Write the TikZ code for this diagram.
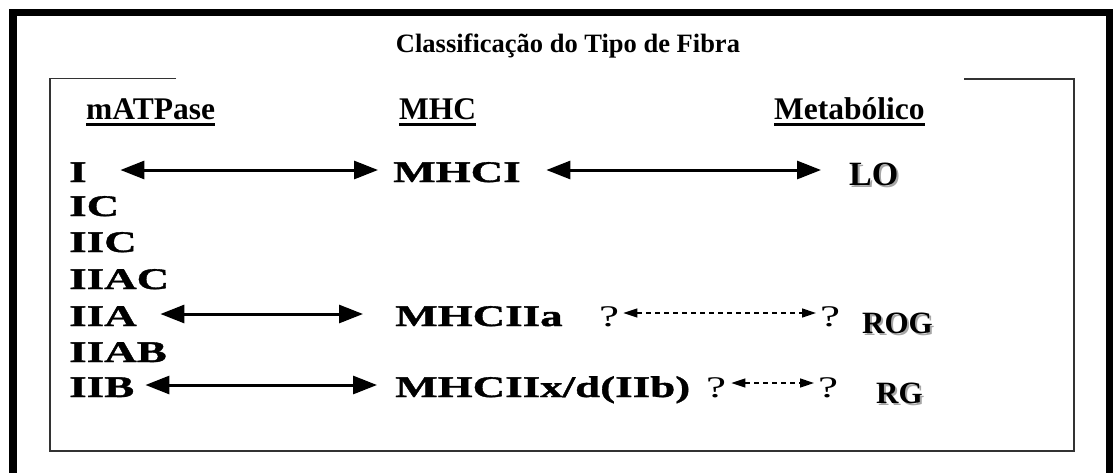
\documentclass[tikz,border=0pt]{standalone}
\usepackage{fontspec}
\setmainfont{Liberation Serif}
\newfontfamily\widefont{Liberation Serif}[FakeStretch=1.5, BoldFeatures={FakeBold=1.2}]
\usetikzlibrary{arrows.meta}
\tikzset{
  frameline/.style={line width=7.5pt, black, line join=miter},
  innerline/.style={line width=1.4pt, black!80},
  item/.style={anchor=base west, inner sep=0pt, font=\widefont\bfseries\fontsize{30}{36}\selectfont},
  hdr/.style={anchor=base west, inner sep=0pt, font=\bfseries\fontsize{31.5}{38}\selectfont},
  qmark/.style={anchor=base west, inner sep=0pt, font=\widefont\fontsize{30}{36}\selectfont},
  meta/.style={anchor=base west, inner sep=0pt, font=\bfseries\fontsize{31}{38}\selectfont},
  metash/.style={meta, text=black!35},
  biarrow/.style={line width=3pt, {Triangle[length=24pt,width=18pt]}-{Triangle[length=24pt,width=18pt]}},
  dasharrow/.style={line width=1.4pt, dash pattern=on 5pt off 4pt, {Triangle[length=14pt,width=9pt]}-{Triangle[length=14pt,width=9pt]}},
  uline/.style={line width=3pt},
}
\begin{document}
\begin{tikzpicture}[x=1pt,y=-1pt]
\useasboundingbox (0,0) rectangle (1113,472);
\clip (0,0) rectangle (1113,472);
\fill[white] (0,0) rectangle (1113,472);
% outer frame
\draw[frameline] (13,490) -- (13,12.5) -- (1109.5,12.5) -- (1109.5,490);
% inner frame
\draw[innerline] (176,78.5) -- (50,78.5) -- (50,451) -- (1074,451) -- (1074,79) -- (964,79);
% title
\node[anchor=base, inner sep=0pt, font=\bfseries\fontsize{26.5}{32}\selectfont] (title) at (568,52) {Classificação do Tipo de Fibra};
% headers
\node[hdr] (h1) at (86,119) {mATPase};
\node[hdr] (h2) at (399,119) {MHC};
\node[hdr] (h3) at (774,119) {Metabólico};
\foreach \h in {h1,h2,h3}{
  \draw[uline] ([yshift=-5.5pt]\h.base west) -- ([yshift=-5.5pt]\h.base east);
}
% mATPase column
\node[item] (I) at (69,182) {I};
\node[item] (IC) at (69,216) {IC};
\node[item] (IIC) at (69,252) {IIC};
\node[item] (IIAC) at (69,289) {IIAC};
\node[item] (IIA) at (69,326) {IIA};
\node[item] (IIAB) at (69,362) {IIAB};
\node[item] (IIB) at (69,397) {IIB};
% MHC column
\node[item] (MHCI) at (393,182) {MHCI};
\node[item] (MHCIIa) at (395,326) {MHCIIa};
\node[item] (MHCIIx) at (395,397) {MHCIIx/d(IIb)};
% question marks
\node[qmark] (q1) at (599,326) {?};
\node[qmark] (q2) at (820,326) {?};
\node[qmark] (q3) at (706,397) {?};
\node[qmark] (q4) at (818,397) {?};
% metabolic column (shadowed)
\node[metash, font=\bfseries\fontsize{34}{40}\selectfont] (LOs) at (851,187) {LO};
\node[meta, font=\bfseries\fontsize{34}{40}\selectfont] (LO) at (849,185) {LO};
\node[metash] (ROGs) at (864,335) {ROG};
\node[meta] (ROG) at (862,333) {ROG};
\node[metash] (RGs) at (878,405) {RG};
\node[meta] (RG) at (876,403) {RG};
% solid arrows
\draw[biarrow] ([xshift=33.5pt,yshift=12pt]I.base east) -- ([xshift=-15pt,yshift=12pt]MHCI.base west);
\draw[biarrow] ([xshift=25.5pt,yshift=12pt]MHCI.base east) -- ([xshift=-28pt,yshift=15pt]LO.base west);
\draw[biarrow] ([xshift=23.5pt,yshift=12pt]IIA.base east) -- ([xshift=-32pt,yshift=12pt]MHCIIa.base west);
\draw[biarrow] ([xshift=11pt,yshift=12pt]IIB.base east) -- ([xshift=-18pt,yshift=12pt]MHCIIx.base west);
% dashed arrows
\draw[dasharrow] ([xshift=4pt,yshift=13pt]q1.base east) -- ([xshift=-4pt,yshift=13pt]q2.base west);
\draw[dasharrow] ([xshift=5pt,yshift=14pt]q3.base east) -- ([xshift=-4pt,yshift=14pt]q4.base west);
\end{tikzpicture}
\end{document}
